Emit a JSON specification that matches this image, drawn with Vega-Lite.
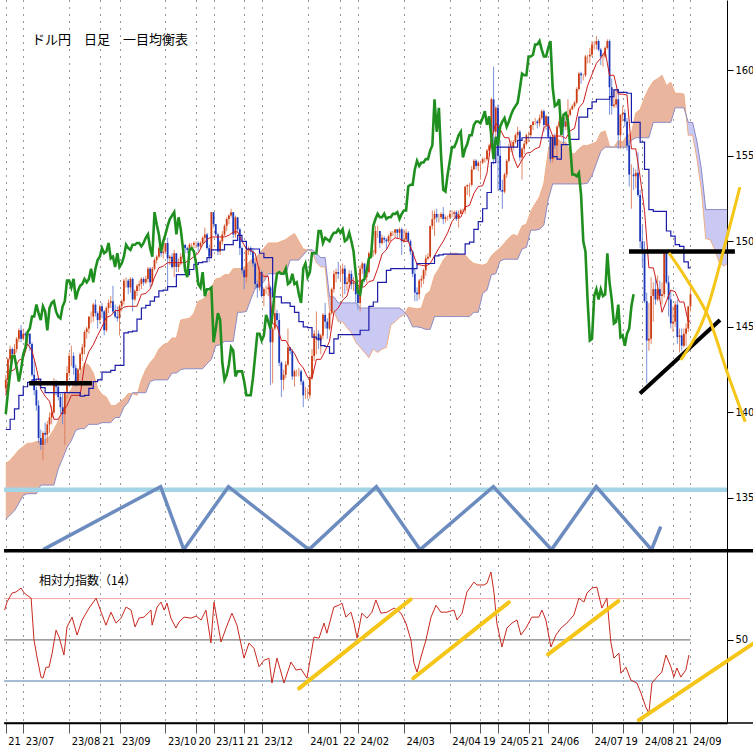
{
"$schema":"https://vega.github.io/schema/vega-lite/v6.json",
"padding":0,"background":"white","spacing":0,"bounds":"flush",
"config":{"view":{"stroke":null},"axis":{"labelFont":"Liberation Sans Narrow, DejaVu Sans Condensed, Liberation Sans","labelColor":"#000","tickColor":"#000","domainColor":"#000","labelFontSize":11}},
"resolve":{"scale":{"x":"independent","y":"independent"}},
"datasets":{
"candles":[
{"t":-8,"o":141.4,"h":142.2,"l":141.2,"c":141.9},{"t":-7,"o":141.9,"h":143.2,"l":141.7,"c":143.1},{"t":-6,"o":143.1,"h":143.9,"l":142.9,"c":143.7},{"t":-5,"o":143.7,"h":143.8,"l":142.9,"c":143.4},{"t":-4,"o":143.4,"h":144.0,"l":143.2,"c":143.7},{"t":-3,"o":143.7,"h":144.4,"l":143.5,"c":144.3},{"t":-2,"o":144.3,"h":144.9,"l":144.1,"c":144.8},{"t":-1,"o":144.8,"h":145.1,"l":144.1,"c":144.3},
{"t":0,"o":144.3,"h":144.9,"l":144.2,"c":144.6},{"t":1,"o":144.6,"h":144.7,"l":144.2,"c":144.5},{"t":2,"o":144.5,"h":144.7,"l":144.0,"c":144.6},{"t":3,"o":144.6,"h":144.6,"l":143.6,"c":144.0},{"t":4,"o":144.0,"h":144.1,"l":142.1,"c":142.2},{"t":5,"o":142.2,"h":143.0,"l":141.0,"c":141.3},{"t":6,"o":141.3,"h":141.5,"l":140.1,"c":140.4},{"t":7,"o":140.4,"h":140.7,"l":138.2,"c":138.5},{"t":8,"o":138.5,"h":139.0,"l":137.8,"c":138.1},{"t":9,"o":138.1,"h":138.9,"l":137.2,"c":138.8},
{"t":10,"o":138.8,"h":139.4,"l":138.1,"c":138.7},{"t":11,"o":138.7,"h":139.5,"l":138.2,"c":139.3},{"t":12,"o":139.3,"h":140.0,"l":138.8,"c":139.7},{"t":13,"o":139.7,"h":140.4,"l":139.3,"c":140.0},{"t":14,"o":140.0,"h":142.0,"l":139.9,"c":141.8},{"t":15,"o":141.8,"h":141.9,"l":141.0,"c":141.5},{"t":16,"o":141.5,"h":141.7,"l":140.7,"c":140.9},{"t":17,"o":140.9,"h":141.1,"l":139.9,"c":140.3},{"t":18,"o":140.3,"h":141.1,"l":139.3,"c":139.9},{"t":19,"o":139.9,"h":141.2,"l":138.1,"c":141.2},
{"t":20,"o":141.2,"h":142.7,"l":140.8,"c":142.3},{"t":21,"o":142.3,"h":143.5,"l":142.1,"c":143.3},{"t":22,"o":143.3,"h":143.9,"l":142.7,"c":143.3},{"t":23,"o":143.3,"h":143.5,"l":142.2,"c":142.6},{"t":24,"o":142.6,"h":142.8,"l":141.5,"c":141.8},{"t":25,"o":141.8,"h":142.6,"l":141.6,"c":142.5},{"t":26,"o":142.5,"h":143.5,"l":142.4,"c":143.4},{"t":27,"o":143.4,"h":144.0,"l":143.0,"c":143.8},{"t":28,"o":143.8,"h":144.8,"l":143.4,"c":144.7},{"t":29,"o":144.7,"h":145.0,"l":144.3,"c":144.9},
{"t":30,"o":144.9,"h":145.6,"l":144.6,"c":145.6},{"t":31,"o":145.6,"h":145.9,"l":145.2,"c":145.6},{"t":32,"o":145.6,"h":146.4,"l":145.3,"c":146.3},{"t":33,"o":146.3,"h":146.6,"l":145.6,"c":145.8},{"t":34,"o":145.8,"h":145.9,"l":144.9,"c":145.4},{"t":35,"o":145.4,"h":146.3,"l":145.2,"c":146.2},{"t":36,"o":146.2,"h":146.4,"l":145.5,"c":145.9},{"t":37,"o":145.9,"h":146.0,"l":144.5,"c":144.8},{"t":38,"o":144.8,"h":146.2,"l":144.7,"c":146.1},{"t":39,"o":146.1,"h":146.6,"l":145.8,"c":146.4},
{"t":40,"o":146.4,"h":146.8,"l":146.1,"c":146.5},{"t":41,"o":146.5,"h":147.4,"l":145.8,"c":145.9},{"t":42,"o":145.9,"h":146.3,"l":145.5,"c":145.6},{"t":43,"o":145.6,"h":146.2,"l":145.3,"c":145.5},{"t":44,"o":145.5,"h":146.3,"l":144.5,"c":146.2},{"t":45,"o":146.2,"h":146.6,"l":145.9,"c":146.5},{"t":46,"o":146.5,"h":147.8,"l":146.3,"c":147.7},{"t":47,"o":147.7,"h":147.9,"l":147.3,"c":147.7},{"t":48,"o":147.7,"h":147.8,"l":146.9,"c":147.3},{"t":49,"o":147.3,"h":147.9,"l":147.0,"c":147.8},
{"t":50,"o":147.8,"h":147.9,"l":145.9,"c":146.6},{"t":51,"o":146.6,"h":147.2,"l":146.5,"c":147.1},{"t":52,"o":147.1,"h":147.5,"l":146.8,"c":147.4},{"t":53,"o":147.4,"h":147.7,"l":147.1,"c":147.5},{"t":54,"o":147.5,"h":147.9,"l":147.2,"c":147.8},{"t":55,"o":147.8,"h":147.9,"l":147.4,"c":147.6},{"t":56,"o":147.6,"h":148.0,"l":147.5,"c":147.8},{"t":57,"o":147.8,"h":148.5,"l":147.6,"c":148.4},{"t":58,"o":148.4,"h":148.5,"l":147.3,"c":147.6},{"t":59,"o":147.6,"h":148.5,"l":147.4,"c":148.4},
{"t":60,"o":148.4,"h":149.0,"l":148.3,"c":148.9},{"t":61,"o":148.9,"h":149.2,"l":148.7,"c":149.1},{"t":62,"o":149.1,"h":149.7,"l":149.0,"c":149.6},{"t":63,"o":149.6,"h":149.7,"l":149.1,"c":149.3},{"t":64,"o":149.3,"h":149.8,"l":149.0,"c":149.4},{"t":65,"o":149.4,"h":149.9,"l":149.3,"c":149.9},{"t":66,"o":149.9,"h":150.2,"l":147.3,"c":149.0},{"t":67,"o":149.0,"h":149.2,"l":148.6,"c":149.1},{"t":68,"o":149.1,"h":149.3,"l":148.4,"c":148.5},{"t":69,"o":148.5,"h":149.5,"l":147.9,"c":149.3},
{"t":70,"o":149.3,"h":149.3,"l":148.2,"c":148.5},{"t":71,"o":148.5,"h":149.0,"l":148.2,"c":148.7},{"t":72,"o":148.7,"h":149.3,"l":148.6,"c":149.1},{"t":73,"o":149.1,"h":149.8,"l":149.0,"c":149.8},{"t":74,"o":149.8,"h":149.8,"l":149.3,"c":149.6},{"t":75,"o":149.6,"h":149.7,"l":149.3,"c":149.5},{"t":76,"o":149.5,"h":149.9,"l":149.4,"c":149.8},{"t":77,"o":149.8,"h":149.9,"l":149.5,"c":149.8},{"t":78,"o":149.8,"h":150.0,"l":149.6,"c":149.9},{"t":79,"o":149.9,"h":150.0,"l":149.6,"c":149.9},
{"t":80,"o":149.9,"h":150.0,"l":149.4,"c":149.7},{"t":81,"o":149.7,"h":150.0,"l":149.6,"c":149.9},{"t":82,"o":149.9,"h":150.3,"l":149.8,"c":150.2},{"t":83,"o":150.2,"h":150.8,"l":150.0,"c":150.4},{"t":84,"o":150.4,"h":150.5,"l":149.5,"c":149.6},{"t":85,"o":149.6,"h":149.8,"l":148.8,"c":149.1},{"t":86,"o":149.1,"h":151.7,"l":149.0,"c":151.7},{"t":87,"o":151.7,"h":151.7,"l":150.8,"c":151.0},{"t":88,"o":151.0,"h":151.0,"l":150.3,"c":150.4},{"t":89,"o":150.4,"h":150.5,"l":149.2,"c":149.4},
{"t":90,"o":149.4,"h":150.1,"l":149.2,"c":150.0},{"t":91,"o":150.0,"h":150.6,"l":149.8,"c":150.4},{"t":92,"o":150.4,"h":151.0,"l":150.3,"c":150.9},{"t":93,"o":150.9,"h":151.4,"l":150.6,"c":151.3},{"t":94,"o":151.3,"h":151.6,"l":151.0,"c":151.5},{"t":95,"o":151.5,"h":151.9,"l":151.4,"c":151.7},{"t":96,"o":151.7,"h":151.7,"l":150.2,"c":150.4},{"t":97,"o":150.4,"h":151.5,"l":150.2,"c":151.4},{"t":98,"o":151.4,"h":151.4,"l":150.5,"c":150.7},{"t":99,"o":150.7,"h":150.8,"l":149.2,"c":149.6},
{"t":100,"o":149.6,"h":149.7,"l":148.1,"c":148.3},{"t":101,"o":148.3,"h":148.4,"l":147.2,"c":147.9},{"t":102,"o":147.9,"h":149.7,"l":147.6,"c":149.5},{"t":103,"o":149.5,"h":149.7,"l":149.2,"c":149.6},{"t":104,"o":149.6,"h":149.7,"l":149.2,"c":149.4},{"t":105,"o":149.4,"h":149.6,"l":148.5,"c":148.7},{"t":106,"o":148.7,"h":148.8,"l":147.2,"c":147.5},{"t":107,"o":147.5,"h":147.7,"l":146.7,"c":147.3},{"t":108,"o":147.3,"h":148.5,"l":147.1,"c":148.2},{"t":109,"o":148.2,"h":148.3,"l":146.7,"c":146.8},
{"t":110,"o":146.8,"h":147.3,"l":146.2,"c":147.2},{"t":111,"o":147.2,"h":147.4,"l":146.9,"c":147.2},{"t":112,"o":147.2,"h":147.5,"l":146.8,"c":147.3},{"t":113,"o":147.3,"h":147.4,"l":141.6,"c":144.1},{"t":114,"o":144.1,"h":145.0,"l":141.7,"c":144.9},{"t":115,"o":144.9,"h":146.6,"l":144.8,"c":145.8},{"t":116,"o":145.8,"h":146.0,"l":145.0,"c":145.4},{"t":117,"o":145.4,"h":145.8,"l":142.7,"c":142.9},{"t":118,"o":142.9,"h":143.0,"l":140.9,"c":141.9},{"t":119,"o":141.9,"h":142.5,"l":141.3,"c":142.2},
{"t":120,"o":142.2,"h":143.0,"l":142.0,"c":142.8},{"t":121,"o":142.8,"h":144.9,"l":142.7,"c":143.8},{"t":122,"o":143.8,"h":143.8,"l":143.4,"c":143.6},{"t":123,"o":143.6,"h":143.7,"l":141.9,"c":142.1},{"t":124,"o":142.1,"h":142.5,"l":141.5,"c":142.4},{"t":125,"o":142.4,"h":142.5,"l":142.1,"c":142.4},{"t":126,"o":142.4,"h":142.6,"l":142.1,"c":142.4},{"t":127,"o":142.4,"h":142.5,"l":141.6,"c":141.8},{"t":128,"o":141.8,"h":141.9,"l":140.3,"c":141.0},{"t":129,"o":141.0,"h":141.5,"l":140.8,"c":141.0},
{"t":130,"o":141.0,"h":141.4,"l":140.8,"c":141.0},{"t":131,"o":141.0,"h":142.2,"l":140.8,"c":142.0},{"t":132,"o":142.0,"h":143.7,"l":141.9,"c":143.3},{"t":133,"o":143.3,"h":144.8,"l":143.0,"c":144.6},{"t":134,"o":144.6,"h":145.9,"l":143.4,"c":144.6},{"t":135,"o":144.6,"h":144.8,"l":143.7,"c":144.2},{"t":136,"o":144.2,"h":144.6,"l":143.4,"c":144.5},{"t":137,"o":144.5,"h":145.8,"l":144.3,"c":145.7},{"t":138,"o":145.7,"h":146.4,"l":144.9,"c":145.3},{"t":139,"o":145.3,"h":145.5,"l":144.3,"c":144.9},
{"t":140,"o":144.9,"h":145.9,"l":144.8,"c":145.8},{"t":141,"o":145.8,"h":147.3,"l":145.7,"c":147.2},{"t":142,"o":147.2,"h":148.3,"l":147.0,"c":148.1},{"t":143,"o":148.1,"h":148.4,"l":147.6,"c":148.2},{"t":144,"o":148.2,"h":148.8,"l":147.8,"c":148.1},{"t":145,"o":148.1,"h":148.6,"l":147.7,"c":148.1},{"t":146,"o":148.1,"h":148.7,"l":146.7,"c":148.4},{"t":147,"o":148.4,"h":148.6,"l":146.9,"c":147.5},{"t":148,"o":147.5,"h":147.9,"l":147.1,"c":147.6},{"t":149,"o":147.6,"h":148.3,"l":147.3,"c":148.1},
{"t":150,"o":148.1,"h":148.3,"l":147.2,"c":147.5},{"t":151,"o":147.5,"h":147.9,"l":147.1,"c":147.6},{"t":152,"o":147.6,"h":147.7,"l":146.4,"c":146.9},{"t":153,"o":146.9,"h":147.3,"l":146.0,"c":146.4},{"t":154,"o":146.4,"h":148.6,"l":145.9,"c":148.4},{"t":155,"o":148.4,"h":148.8,"l":148.1,"c":148.7},{"t":156,"o":148.7,"h":148.7,"l":147.6,"c":147.9},{"t":157,"o":147.9,"h":148.3,"l":147.6,"c":148.2},{"t":158,"o":148.2,"h":149.4,"l":148.1,"c":149.3},{"t":159,"o":149.3,"h":149.5,"l":149.0,"c":149.3},
{"t":160,"o":149.3,"h":149.5,"l":149.1,"c":149.3},{"t":161,"o":149.3,"h":150.9,"l":149.2,"c":150.6},{"t":162,"o":150.6,"h":150.9,"l":150.2,"c":150.6},{"t":163,"o":150.6,"h":150.6,"l":149.6,"c":149.9},{"t":164,"o":149.9,"h":150.4,"l":149.8,"c":150.2},{"t":165,"o":150.2,"h":150.3,"l":149.9,"c":150.1},{"t":166,"o":150.1,"h":150.2,"l":149.5,"c":150.0},{"t":167,"o":150.0,"h":150.4,"l":149.9,"c":150.3},{"t":168,"o":150.3,"h":150.6,"l":150.0,"c":150.5},{"t":169,"o":150.5,"h":150.6,"l":150.3,"c":150.5},
{"t":170,"o":150.5,"h":150.7,"l":150.2,"c":150.7},{"t":171,"o":150.7,"h":150.7,"l":150.2,"c":150.5},{"t":172,"o":150.5,"h":150.8,"l":150.2,"c":150.7},{"t":173,"o":150.7,"h":150.8,"l":149.2,"c":150.0},{"t":174,"o":150.0,"h":150.7,"l":149.9,"c":150.1},{"t":175,"o":150.1,"h":150.7,"l":150.0,"c":150.5},{"t":176,"o":150.5,"h":150.6,"l":149.9,"c":150.0},{"t":177,"o":150.0,"h":150.1,"l":149.2,"c":149.4},{"t":178,"o":149.4,"h":149.5,"l":147.9,"c":148.1},{"t":179,"o":148.1,"h":148.4,"l":146.5,"c":147.0},
{"t":180,"o":147.0,"h":147.3,"l":146.5,"c":146.9},{"t":181,"o":146.9,"h":147.8,"l":146.6,"c":147.7},{"t":182,"o":147.7,"h":148.0,"l":147.3,"c":147.8},{"t":183,"o":147.8,"h":148.4,"l":147.5,"c":148.3},{"t":184,"o":148.3,"h":149.2,"l":148.0,"c":149.0},{"t":185,"o":149.0,"h":149.3,"l":148.9,"c":149.1},{"t":186,"o":149.1,"h":150.9,"l":149.0,"c":150.9},{"t":187,"o":150.9,"h":151.8,"l":150.7,"c":151.3},{"t":188,"o":151.3,"h":151.8,"l":150.3,"c":151.6},{"t":189,"o":151.6,"h":151.9,"l":151.1,"c":151.4},
{"t":190,"o":151.4,"h":151.6,"l":151.1,"c":151.4},{"t":191,"o":151.4,"h":151.7,"l":151.3,"c":151.6},{"t":192,"o":151.6,"h":152.0,"l":151.0,"c":151.3},{"t":193,"o":151.3,"h":151.5,"l":151.1,"c":151.4},{"t":194,"o":151.4,"h":151.5,"l":151.2,"c":151.4},{"t":195,"o":151.4,"h":151.8,"l":151.3,"c":151.6},{"t":196,"o":151.6,"h":151.8,"l":151.4,"c":151.6},{"t":197,"o":151.6,"h":151.8,"l":151.4,"c":151.7},{"t":198,"o":151.7,"h":151.8,"l":151.2,"c":151.3},{"t":199,"o":151.3,"h":151.8,"l":150.8,"c":151.6},
{"t":200,"o":151.6,"h":151.9,"l":151.6,"c":151.8},{"t":201,"o":151.8,"h":151.9,"l":151.6,"c":151.8},{"t":202,"o":151.8,"h":153.2,"l":151.6,"c":153.2},{"t":203,"o":153.2,"h":153.3,"l":152.7,"c":153.3},{"t":204,"o":153.3,"h":153.4,"l":152.6,"c":153.3},{"t":205,"o":153.3,"h":154.4,"l":153.2,"c":154.2},{"t":206,"o":154.2,"h":154.8,"l":154.2,"c":154.7},{"t":207,"o":154.7,"h":154.8,"l":154.2,"c":154.4},{"t":208,"o":154.4,"h":154.7,"l":154.1,"c":154.6},{"t":209,"o":154.6,"h":154.7,"l":153.6,"c":154.6},
{"t":210,"o":154.6,"h":154.9,"l":154.5,"c":154.8},{"t":211,"o":154.8,"h":154.9,"l":154.6,"c":154.8},{"t":212,"o":154.8,"h":155.4,"l":154.7,"c":155.3},{"t":213,"o":155.3,"h":155.7,"l":155.0,"c":155.6},{"t":214,"o":155.6,"h":158.4,"l":155.4,"c":158.3},{"t":215,"o":158.3,"h":160.2,"l":154.5,"c":156.4},{"t":216,"o":156.4,"h":157.9,"l":156.0,"c":157.8},{"t":217,"o":157.8,"h":158.0,"l":153.0,"c":155.0},{"t":218,"o":155.0,"h":155.9,"l":152.9,"c":153.0},{"t":219,"o":153.0,"h":153.6,"l":151.9,"c":152.9},
{"t":220,"o":152.9,"h":154.0,"l":152.8,"c":153.9},{"t":221,"o":153.9,"h":154.8,"l":153.7,"c":154.7},{"t":222,"o":154.7,"h":155.7,"l":154.6,"c":155.5},{"t":223,"o":155.5,"h":155.9,"l":155.2,"c":155.5},{"t":224,"o":155.5,"h":155.9,"l":155.3,"c":155.8},{"t":225,"o":155.8,"h":156.3,"l":155.7,"c":156.2},{"t":226,"o":156.2,"h":156.7,"l":156.0,"c":156.4},{"t":227,"o":156.4,"h":156.5,"l":154.7,"c":154.9},{"t":228,"o":154.9,"h":155.5,"l":153.6,"c":155.4},{"t":229,"o":155.4,"h":155.9,"l":155.1,"c":155.7},
{"t":230,"o":155.7,"h":156.3,"l":155.6,"c":156.2},{"t":231,"o":156.2,"h":156.4,"l":155.8,"c":156.2},{"t":232,"o":156.2,"h":156.8,"l":156.1,"c":156.8},{"t":233,"o":156.8,"h":157.0,"l":156.5,"c":157.0},{"t":234,"o":157.0,"h":157.2,"l":156.8,"c":157.0},{"t":235,"o":157.0,"h":157.1,"l":156.6,"c":156.9},{"t":236,"o":156.9,"h":157.4,"l":156.7,"c":157.2},{"t":237,"o":157.2,"h":157.7,"l":157.1,"c":157.6},{"t":238,"o":157.6,"h":157.7,"l":156.4,"c":156.8},{"t":239,"o":156.8,"h":157.4,"l":156.5,"c":157.3},
{"t":240,"o":157.3,"h":157.3,"l":156.0,"c":156.1},{"t":241,"o":156.1,"h":156.2,"l":154.6,"c":154.8},{"t":242,"o":154.8,"h":156.2,"l":154.6,"c":156.1},{"t":243,"o":156.1,"h":156.3,"l":155.4,"c":155.6},{"t":244,"o":155.6,"h":156.8,"l":154.9,"c":156.7},{"t":245,"o":156.7,"h":157.2,"l":156.6,"c":157.0},{"t":246,"o":157.0,"h":157.3,"l":156.8,"c":157.2},{"t":247,"o":157.2,"h":157.4,"l":155.7,"c":156.7},{"t":248,"o":156.7,"h":157.2,"l":156.5,"c":157.0},{"t":249,"o":157.0,"h":158.3,"l":156.3,"c":157.4},
{"t":250,"o":157.4,"h":157.8,"l":157.3,"c":157.7},{"t":251,"o":157.7,"h":158.0,"l":157.7,"c":157.9},{"t":252,"o":157.9,"h":158.2,"l":157.8,"c":158.1},{"t":253,"o":158.1,"h":159.0,"l":158.0,"c":158.9},{"t":254,"o":158.9,"h":159.9,"l":158.8,"c":159.8},{"t":255,"o":159.8,"h":159.9,"l":159.2,"c":159.7},{"t":256,"o":159.7,"h":159.8,"l":159.4,"c":159.7},{"t":257,"o":159.7,"h":160.9,"l":159.6,"c":160.8},{"t":258,"o":160.8,"h":160.9,"l":160.4,"c":160.8},{"t":259,"o":160.8,"h":161.3,"l":160.4,"c":160.9},
{"t":260,"o":160.9,"h":161.7,"l":160.8,"c":161.5},{"t":261,"o":161.5,"h":161.7,"l":161.2,"c":161.5},{"t":262,"o":161.5,"h":162.0,"l":161.2,"c":161.7},{"t":263,"o":161.7,"h":161.8,"l":161.1,"c":161.2},{"t":264,"o":161.2,"h":161.3,"l":160.3,"c":160.8},{"t":265,"o":160.8,"h":161.0,"l":160.2,"c":160.8},{"t":266,"o":160.8,"h":161.4,"l":160.7,"c":161.3},{"t":267,"o":161.3,"h":161.8,"l":161.2,"c":161.7},{"t":268,"o":161.7,"h":161.8,"l":157.4,"c":159.0},{"t":269,"o":159.0,"h":159.5,"l":157.4,"c":157.9},
{"t":270,"o":157.9,"h":158.9,"l":157.8,"c":158.0},{"t":271,"o":158.0,"h":158.9,"l":157.8,"c":158.3},{"t":272,"o":158.3,"h":158.9,"l":155.4,"c":156.2},{"t":273,"o":156.2,"h":157.4,"l":155.4,"c":157.4},{"t":274,"o":157.4,"h":157.9,"l":157.0,"c":157.5},{"t":275,"o":157.5,"h":157.7,"l":156.7,"c":157.0},{"t":276,"o":157.0,"h":157.2,"l":155.3,"c":155.6},{"t":277,"o":155.6,"h":155.9,"l":153.2,"c":153.9},{"t":278,"o":153.9,"h":154.5,"l":151.9,"c":153.9},{"t":279,"o":153.9,"h":154.3,"l":153.0,"c":153.8},
{"t":280,"o":153.8,"h":154.2,"l":153.1,"c":154.0},{"t":281,"o":154.0,"h":155.2,"l":152.6,"c":152.7},{"t":282,"o":152.7,"h":153.0,"l":149.6,"c":150.0},{"t":283,"o":150.0,"h":150.9,"l":148.5,"c":149.4},{"t":284,"o":149.4,"h":150.0,"l":146.4,"c":146.5},{"t":285,"o":146.5,"h":147.0,"l":141.7,"c":144.2},{"t":286,"o":144.2,"h":146.4,"l":143.6,"c":144.3},{"t":287,"o":144.3,"h":147.9,"l":144.0,"c":146.8},{"t":288,"o":146.8,"h":147.6,"l":145.3,"c":147.2},{"t":289,"o":147.2,"h":147.8,"l":146.3,"c":146.6},
{"t":290,"o":146.6,"h":148.0,"l":146.5,"c":147.2},{"t":291,"o":147.2,"h":147.7,"l":146.6,"c":146.8},{"t":292,"o":146.8,"h":147.6,"l":146.3,"c":146.9},{"t":293,"o":146.9,"h":149.4,"l":146.7,"c":149.3},{"t":294,"o":149.3,"h":149.4,"l":147.5,"c":147.6},{"t":295,"o":147.6,"h":148.0,"l":145.6,"c":146.6},{"t":296,"o":146.6,"h":147.1,"l":144.9,"c":145.2},{"t":297,"o":145.2,"h":146.2,"l":144.7,"c":145.3},{"t":298,"o":145.3,"h":146.5,"l":145.0,"c":146.3},{"t":299,"o":146.3,"h":146.6,"l":144.0,"c":144.4},
{"t":300,"o":144.4,"h":144.9,"l":143.5,"c":144.5},{"t":301,"o":144.5,"h":144.9,"l":143.6,"c":143.9},{"t":302,"o":143.9,"h":144.9,"l":143.8,"c":144.6},{"t":303,"o":144.6,"h":145.2,"l":143.9,"c":144.9},{"t":304,"o":144.9,"h":146.2,"l":144.7,"c":146.2},{"t":305,"o":146.2,"h":147.2,"l":145.9,"c":146.9}
],
"tenkan":[{"t":-8,"v":141.0},{"t":-6,"v":142.4},{"t":-4,"v":142.5},{"t":-2,"v":143.05},{"t":0,"v":143.15},{"t":2,"v":144.0},{"t":4,"v":143.6},{"t":6,"v":142.6},{"t":8,"v":141.35},{"t":10,"v":140.95},{"t":12,"v":140.65},{"t":14,"v":139.6},{"t":16,"v":139.6},{"t":18,"v":140.05},{"t":20,"v":140.4},{"t":22,"v":141.0},{"t":24,"v":141.0},{"t":26,"v":141.0},{"t":28,"v":142.8},{"t":30,"v":143.55},{"t":32,"v":143.95},{"t":34,"v":144.5},{"t":36,"v":145.0},{"t":38,"v":145.55},{"t":40,"v":145.65},{"t":42,"v":145.95},{"t":44,"v":145.95},{"t":46,"v":146.15},{"t":48,"v":146.2},{"t":50,"v":146.2},{"t":52,"v":146.2},{"t":54,"v":146.9},{"t":56,"v":146.95},{"t":58,"v":147.2},{"t":60,"v":147.9},{"t":62,"v":148.45},{"t":64,"v":148.55},{"t":66,"v":148.75},{"t":68,"v":148.75},{"t":70,"v":148.75},{"t":72,"v":148.75},{"t":74,"v":148.75},{"t":76,"v":148.9},{"t":78,"v":149.1},{"t":80,"v":149.3},{"t":82,"v":149.8},{"t":84,"v":150.1},{"t":86,"v":150.25},{"t":88,"v":150.25},{"t":90,"v":150.25},{"t":92,"v":150.25},{"t":94,"v":150.35},{"t":96,"v":150.55},{"t":98,"v":150.55},{"t":100,"v":150.0},{"t":102,"v":149.55},{"t":104,"v":149.45},{"t":106,"v":149.3},{"t":108,"v":148.2},{"t":110,"v":147.95},{"t":112,"v":147.95},{"t":114,"v":145.2},{"t":116,"v":145.05},{"t":118,"v":144.2},{"t":120,"v":144.2},{"t":122,"v":143.75},{"t":124,"v":143.45},{"t":126,"v":142.9},{"t":128,"v":142.6},{"t":130,"v":142.05},{"t":132,"v":142.0},{"t":134,"v":143.1},{"t":136,"v":143.1},{"t":138,"v":143.6},{"t":140,"v":144.15},{"t":142,"v":145.85},{"t":144,"v":146.1},{"t":146,"v":146.55},{"t":148,"v":146.8},{"t":150,"v":147.75},{"t":152,"v":147.6},{"t":154,"v":147.3},{"t":156,"v":147.35},{"t":158,"v":147.65},{"t":160,"v":147.7},{"t":162,"v":148.4},{"t":164,"v":149.25},{"t":166,"v":149.5},{"t":168,"v":150.0},{"t":170,"v":150.2},{"t":172,"v":150.15},{"t":174,"v":150.0},{"t":176,"v":150.0},{"t":178,"v":149.35},{"t":180,"v":148.65},{"t":182,"v":148.6},{"t":184,"v":148.55},{"t":186,"v":148.7},{"t":188,"v":149.15},{"t":190,"v":149.6},{"t":192,"v":150.0},{"t":194,"v":150.5},{"t":196,"v":151.15},{"t":198,"v":151.5},{"t":200,"v":151.4},{"t":202,"v":152.0},{"t":204,"v":152.1},{"t":206,"v":152.8},{"t":208,"v":153.2},{"t":210,"v":153.25},{"t":212,"v":154.0},{"t":214,"v":156.0},{"t":216,"v":156.9},{"t":218,"v":156.55},{"t":220,"v":156.05},{"t":222,"v":156.05},{"t":224,"v":154.95},{"t":226,"v":154.3},{"t":228,"v":154.75},{"t":230,"v":155.15},{"t":232,"v":155.2},{"t":234,"v":155.4},{"t":236,"v":155.5},{"t":238,"v":156.65},{"t":240,"v":156.85},{"t":242,"v":156.15},{"t":244,"v":156.15},{"t":246,"v":156.15},{"t":248,"v":156.0},{"t":250,"v":156.45},{"t":252,"v":156.6},{"t":254,"v":157.8},{"t":256,"v":158.1},{"t":258,"v":159.1},{"t":260,"v":159.75},{"t":262,"v":160.4},{"t":264,"v":160.7},{"t":266,"v":161.1},{"t":268,"v":159.7},{"t":270,"v":159.7},{"t":272,"v":158.6},{"t":274,"v":158.6},{"t":276,"v":158.55},{"t":278,"v":155.4},{"t":280,"v":155.4},{"t":282,"v":153.75},{"t":284,"v":151.8},{"t":286,"v":148.45},{"t":288,"v":148.45},{"t":290,"v":147.35},{"t":292,"v":145.85},{"t":294,"v":146.5},{"t":296,"v":147.15},{"t":298,"v":147.05},{"t":300,"v":146.45},{"t":302,"v":146.45},{"t":304,"v":145.3},{"t":305,"v":145.35}],
"kijun":[{"t":-8,"v":139.0},{"t":-6,"v":139.6},{"t":-4,"v":140.2},{"t":-2,"v":141.0},{"t":0,"v":141.5},{"t":2,"v":141.75},{"t":4,"v":141.9},{"t":6,"v":141.95},{"t":8,"v":141.45},{"t":10,"v":141.15},{"t":26,"v":140.95},{"t":28,"v":141.0},{"t":30,"v":141.4},{"t":32,"v":141.8},{"t":34,"v":141.9},{"t":36,"v":142.35},{"t":40,"v":142.45},{"t":42,"v":142.75},{"t":46,"v":144.65},{"t":48,"v":144.7},{"t":50,"v":144.75},{"t":52,"v":145.45},{"t":54,"v":146.1},{"t":56,"v":146.25},{"t":58,"v":146.5},{"t":60,"v":146.75},{"t":62,"v":147.1},{"t":64,"v":147.15},{"t":66,"v":147.35},{"t":70,"v":148.05},{"t":76,"v":148.35},{"t":78,"v":148.65},{"t":80,"v":148.75},{"t":82,"v":148.8},{"t":84,"v":149.05},{"t":86,"v":149.5},{"t":92,"v":149.8},{"t":96,"v":150.05},{"t":98,"v":150.35},{"t":100,"v":150.0},{"t":102,"v":149.55},{"t":108,"v":149.3},{"t":110,"v":149.05},{"t":114,"v":146.75},{"t":118,"v":146.4},{"t":122,"v":146.2},{"t":124,"v":145.85},{"t":126,"v":145.3},{"t":128,"v":145.0},{"t":130,"v":144.95},{"t":132,"v":144.4},{"t":134,"v":144.3},{"t":136,"v":143.9},{"t":138,"v":143.85},{"t":140,"v":143.45},{"t":142,"v":144.3},{"t":144,"v":144.55},{"t":154,"v":144.8},{"t":158,"v":146.2},{"t":160,"v":146.45},{"t":162,"v":147.6},{"t":166,"v":148.3},{"t":168,"v":148.4},{"t":180,"v":148.7},{"t":188,"v":149.15},{"t":190,"v":149.2},{"t":192,"v":149.25},{"t":202,"v":149.85},{"t":204,"v":149.95},{"t":206,"v":150.7},{"t":208,"v":151.15},{"t":210,"v":151.9},{"t":212,"v":152.85},{"t":214,"v":154.6},{"t":216,"v":155.5},{"t":226,"v":155.9},{"t":228,"v":156.05},{"t":242,"v":154.95},{"t":244,"v":154.8},{"t":246,"v":155.65},{"t":250,"v":155.95},{"t":254,"v":157.25},{"t":258,"v":157.75},{"t":260,"v":158.15},{"t":262,"v":158.3},{"t":268,"v":158.45},{"t":270,"v":158.85},{"t":272,"v":158.7},{"t":276,"v":158.65},{"t":278,"v":156.95},{"t":282,"v":155.8},{"t":284,"v":154.2},{"t":286,"v":151.85},{"t":288,"v":151.75},{"t":294,"v":150.6},{"t":296,"v":150.3},{"t":298,"v":149.8},{"t":300,"v":149.7},{"t":302,"v":148.8},{"t":304,"v":148.45},{"t":305,"v":148.45}],
"chikou":[{"t":-8,"v":139.9},{"t":-7,"v":141.2},{"t":-6,"v":142.3},{"t":-5,"v":143.3},{"t":-4,"v":143.3},{"t":-3,"v":142.6},{"t":-2,"v":141.8},{"t":-1,"v":142.5},{"t":0,"v":143.4},{"t":1,"v":143.8},{"t":2,"v":144.7},{"t":3,"v":144.9},{"t":4,"v":145.6},{"t":5,"v":145.6},{"t":6,"v":146.3},{"t":7,"v":145.8},{"t":8,"v":145.4},{"t":9,"v":146.2},{"t":10,"v":145.9},{"t":11,"v":144.8},{"t":12,"v":146.1},{"t":13,"v":146.4},{"t":14,"v":146.5},{"t":15,"v":145.9},{"t":16,"v":145.6},{"t":17,"v":145.5},{"t":18,"v":146.2},{"t":19,"v":146.5},{"t":20,"v":147.7},{"t":21,"v":147.7},{"t":22,"v":147.3},{"t":23,"v":147.8},{"t":24,"v":146.6},{"t":25,"v":147.1},{"t":26,"v":147.4},{"t":27,"v":147.5},{"t":28,"v":147.8},{"t":29,"v":147.6},{"t":30,"v":147.8},{"t":31,"v":148.4},{"t":32,"v":147.6},{"t":33,"v":148.4},{"t":34,"v":148.9},{"t":35,"v":149.1},{"t":36,"v":149.6},{"t":37,"v":149.3},{"t":38,"v":149.4},{"t":39,"v":149.9},{"t":40,"v":149.0},{"t":41,"v":149.1},{"t":42,"v":148.5},{"t":43,"v":149.3},{"t":44,"v":148.5},{"t":45,"v":148.7},{"t":46,"v":149.1},{"t":47,"v":149.8},{"t":48,"v":149.6},{"t":49,"v":149.5},{"t":50,"v":149.8},{"t":51,"v":149.8},{"t":52,"v":149.9},{"t":53,"v":149.9},{"t":54,"v":149.7},{"t":55,"v":149.9},{"t":56,"v":150.2},{"t":57,"v":150.4},{"t":58,"v":149.6},{"t":59,"v":149.1},{"t":60,"v":151.7},{"t":61,"v":151.0},{"t":62,"v":150.4},{"t":63,"v":149.4},{"t":64,"v":150.0},{"t":65,"v":150.4},{"t":66,"v":150.9},{"t":67,"v":151.3},{"t":68,"v":151.5},{"t":69,"v":151.7},{"t":70,"v":150.4},{"t":71,"v":151.4},{"t":72,"v":150.7},{"t":73,"v":149.6},{"t":74,"v":148.3},{"t":75,"v":147.9},{"t":76,"v":149.5},{"t":77,"v":149.6},{"t":78,"v":149.4},{"t":79,"v":148.7},{"t":80,"v":147.5},{"t":81,"v":147.3},{"t":82,"v":148.2},{"t":83,"v":146.8},{"t":84,"v":147.2},{"t":85,"v":147.2},{"t":86,"v":147.3},{"t":87,"v":144.1},{"t":88,"v":144.9},{"t":89,"v":145.8},{"t":90,"v":145.4},{"t":91,"v":142.9},{"t":92,"v":141.9},{"t":93,"v":142.2},{"t":94,"v":142.8},{"t":95,"v":143.8},{"t":96,"v":143.6},{"t":97,"v":142.1},{"t":98,"v":142.4},{"t":99,"v":142.4},{"t":100,"v":142.4},{"t":101,"v":141.8},{"t":102,"v":141.0},{"t":103,"v":141.0},{"t":104,"v":141.0},{"t":105,"v":142.0},{"t":106,"v":143.3},{"t":107,"v":144.6},{"t":108,"v":144.6},{"t":109,"v":144.2},{"t":110,"v":144.5},{"t":111,"v":145.7},{"t":112,"v":145.3},{"t":113,"v":144.9},{"t":114,"v":145.8},{"t":115,"v":147.2},{"t":116,"v":148.1},{"t":117,"v":148.2},{"t":118,"v":148.1},{"t":119,"v":148.1},{"t":120,"v":148.4},{"t":121,"v":147.5},{"t":122,"v":147.6},{"t":123,"v":148.1},{"t":124,"v":147.5},{"t":125,"v":147.6},{"t":126,"v":146.9},{"t":127,"v":146.4},{"t":128,"v":148.4},{"t":129,"v":148.7},{"t":130,"v":147.9},{"t":131,"v":148.2},{"t":132,"v":149.3},{"t":133,"v":149.3},{"t":134,"v":149.3},{"t":135,"v":150.6},{"t":136,"v":150.6},{"t":137,"v":149.9},{"t":138,"v":150.2},{"t":139,"v":150.1},{"t":140,"v":150.0},{"t":141,"v":150.3},{"t":142,"v":150.5},{"t":143,"v":150.5},{"t":144,"v":150.7},{"t":145,"v":150.5},{"t":146,"v":150.7},{"t":147,"v":150.0},{"t":148,"v":150.1},{"t":149,"v":150.5},{"t":150,"v":150.0},{"t":151,"v":149.4},{"t":152,"v":148.1},{"t":153,"v":147.0},{"t":154,"v":146.9},{"t":155,"v":147.7},{"t":156,"v":147.8},{"t":157,"v":148.3},{"t":158,"v":149.0},{"t":159,"v":149.1},{"t":160,"v":150.9},{"t":161,"v":151.3},{"t":162,"v":151.6},{"t":163,"v":151.4},{"t":164,"v":151.4},{"t":165,"v":151.6},{"t":166,"v":151.3},{"t":167,"v":151.4},{"t":168,"v":151.4},{"t":169,"v":151.6},{"t":170,"v":151.6},{"t":171,"v":151.7},{"t":172,"v":151.3},{"t":173,"v":151.6},{"t":174,"v":151.8},{"t":175,"v":151.8},{"t":176,"v":153.2},{"t":177,"v":153.3},{"t":178,"v":153.3},{"t":179,"v":154.2},{"t":180,"v":154.7},{"t":181,"v":154.4},{"t":182,"v":154.6},{"t":183,"v":154.6},{"t":184,"v":154.8},{"t":185,"v":154.8},{"t":186,"v":155.3},{"t":187,"v":155.6},{"t":188,"v":158.3},{"t":189,"v":156.4},{"t":190,"v":157.8},{"t":191,"v":155.0},{"t":192,"v":153.0},{"t":193,"v":152.9},{"t":194,"v":153.9},{"t":195,"v":154.7},{"t":196,"v":155.5},{"t":197,"v":155.5},{"t":198,"v":155.8},{"t":199,"v":156.2},{"t":200,"v":156.4},{"t":201,"v":154.9},{"t":202,"v":155.4},{"t":203,"v":155.7},{"t":204,"v":156.2},{"t":205,"v":156.2},{"t":206,"v":156.8},{"t":207,"v":157.0},{"t":208,"v":157.0},{"t":209,"v":156.9},{"t":210,"v":157.2},{"t":211,"v":157.6},{"t":212,"v":156.8},{"t":213,"v":157.3},{"t":214,"v":156.1},{"t":215,"v":154.8},{"t":216,"v":156.1},{"t":217,"v":155.6},{"t":218,"v":156.7},{"t":219,"v":157.0},{"t":220,"v":157.2},{"t":221,"v":156.7},{"t":222,"v":157.0},{"t":223,"v":157.4},{"t":224,"v":157.7},{"t":225,"v":157.9},{"t":226,"v":158.1},{"t":227,"v":158.9},{"t":228,"v":159.8},{"t":229,"v":159.7},{"t":230,"v":159.7},{"t":231,"v":160.8},{"t":232,"v":160.8},{"t":233,"v":160.9},{"t":234,"v":161.5},{"t":235,"v":161.5},{"t":236,"v":161.7},{"t":237,"v":161.2},{"t":238,"v":160.8},{"t":239,"v":160.8},{"t":240,"v":161.3},{"t":241,"v":161.7},{"t":242,"v":159.0},{"t":243,"v":157.9},{"t":244,"v":158.0},{"t":245,"v":158.3},{"t":246,"v":156.2},{"t":247,"v":157.4},{"t":248,"v":157.5},{"t":249,"v":157.0},{"t":250,"v":155.6},{"t":251,"v":153.9},{"t":252,"v":153.9},{"t":253,"v":153.8},{"t":254,"v":154.0},{"t":255,"v":152.7},{"t":256,"v":150.0},{"t":257,"v":149.4},{"t":258,"v":146.5},{"t":259,"v":144.2},{"t":260,"v":144.3},{"t":261,"v":146.8},{"t":262,"v":147.2},{"t":263,"v":146.6},{"t":264,"v":147.2},{"t":265,"v":146.8},{"t":266,"v":146.9},{"t":267,"v":149.3},{"t":268,"v":147.6},{"t":269,"v":146.6},{"t":270,"v":145.2},{"t":271,"v":145.3},{"t":272,"v":146.3},{"t":273,"v":144.4},{"t":274,"v":144.5},{"t":275,"v":143.9},{"t":276,"v":144.6},{"t":277,"v":144.9},{"t":278,"v":146.2},{"t":279,"v":146.9}],
"cloud":[{"t":-8,"sa":137.0,"sb":133.75},{"t":-6,"sa":137.2,"sb":134.0},{"t":-4,"sa":137.5,"sb":134.25},{"t":-2,"sa":137.8,"sb":134.7},{"t":0,"sa":138.0,"sb":135.15},{"t":2,"sa":138.2,"sb":135.25},{"t":4,"sa":138.2,"sb":135.25},{"t":6,"sa":138.3,"sb":135.25},{"t":8,"sa":138.3,"sb":135.75},{"t":10,"sa":138.4,"sb":135.75},{"t":12,"sa":138.6,"sb":135.75},{"t":14,"sa":139.0,"sb":135.75},{"t":16,"sa":139.5,"sb":136.7},{"t":18,"sa":140.0,"sb":137.3},{"t":20,"sa":141.0,"sb":137.95},{"t":22,"sa":141.35,"sb":138.35},{"t":24,"sa":142.0,"sb":138.95},{"t":26,"sa":142.3,"sb":139.05},{"t":28,"sa":142.9,"sb":139.05},{"t":30,"sa":142.75,"sb":139.3},{"t":32,"sa":142.3,"sb":139.3},{"t":34,"sa":141.4,"sb":139.3},{"t":36,"sa":141.05,"sb":139.4},{"t":38,"sa":140.9,"sb":139.4},{"t":40,"sa":140.4,"sb":139.4},{"t":42,"sa":140.4,"sb":139.7},{"t":44,"sa":140.6,"sb":139.7},{"t":46,"sa":140.8,"sb":140.3},{"t":48,"sa":141.1,"sb":140.6},{"t":50,"sa":141.1,"sb":141.15},{"t":52,"sa":141.0,"sb":141.15},{"t":54,"sa":141.9,"sb":141.15},{"t":56,"sa":142.5,"sb":141.15},{"t":58,"sa":142.9,"sb":141.8},{"t":60,"sa":143.2,"sb":141.9},{"t":62,"sa":143.7,"sb":141.9},{"t":64,"sa":143.95,"sb":141.9},{"t":66,"sa":144.05,"sb":141.9},{"t":68,"sa":144.35,"sb":142.3},{"t":70,"sa":144.35,"sb":142.3},{"t":72,"sa":145.4,"sb":142.5},{"t":74,"sa":145.45,"sb":142.55},{"t":76,"sa":145.5,"sb":142.55},{"t":78,"sa":145.8,"sb":142.55},{"t":80,"sa":146.5,"sb":142.55},{"t":82,"sa":146.6,"sb":142.55},{"t":84,"sa":146.85,"sb":142.85},{"t":86,"sa":147.3,"sb":143.1},{"t":88,"sa":147.8,"sb":143.9},{"t":90,"sa":147.85,"sb":143.95},{"t":92,"sa":148.05,"sb":144.15},{"t":94,"sa":148.05,"sb":144.15},{"t":96,"sa":148.4,"sb":144.15},{"t":98,"sa":148.4,"sb":145.85},{"t":100,"sa":148.4,"sb":145.85},{"t":102,"sa":148.6,"sb":145.9},{"t":104,"sa":148.9,"sb":146.6},{"t":106,"sa":149.0,"sb":147.25},{"t":108,"sa":149.3,"sb":147.35},{"t":110,"sa":149.6,"sb":147.65},{"t":112,"sa":149.9,"sb":148.1},{"t":114,"sa":149.9,"sb":148.1},{"t":116,"sa":149.9,"sb":148.1},{"t":118,"sa":150.0,"sb":148.1},{"t":120,"sa":150.1,"sb":148.1},{"t":122,"sa":150.3,"sb":148.9},{"t":124,"sa":150.45,"sb":148.9},{"t":126,"sa":150.0,"sb":148.9},{"t":128,"sa":149.55,"sb":149.2},{"t":130,"sa":149.5,"sb":149.5},{"t":132,"sa":149.4,"sb":149.5},{"t":134,"sa":148.75,"sb":149.3},{"t":136,"sa":148.5,"sb":149.05},{"t":138,"sa":148.5,"sb":149.05},{"t":140,"sa":145.95,"sb":146.75},{"t":142,"sa":145.9,"sb":146.75},{"t":144,"sa":145.3,"sb":146.4},{"t":146,"sa":145.3,"sb":146.4},{"t":148,"sa":144.95,"sb":146.4},{"t":150,"sa":144.65,"sb":146.4},{"t":152,"sa":144.1,"sb":146.4},{"t":154,"sa":143.8,"sb":146.1},{"t":156,"sa":143.5,"sb":146.1},{"t":158,"sa":143.2,"sb":146.1},{"t":160,"sa":143.7,"sb":146.1},{"t":162,"sa":143.5,"sb":146.1},{"t":164,"sa":143.7,"sb":146.1},{"t":166,"sa":143.8,"sb":146.1},{"t":168,"sa":145.1,"sb":146.1},{"t":170,"sa":145.3,"sb":146.1},{"t":172,"sa":145.55,"sb":146.1},{"t":174,"sa":145.7,"sb":145.9},{"t":176,"sa":146.15,"sb":145.55},{"t":178,"sa":146.1,"sb":145.0},{"t":180,"sa":146.05,"sb":145.0},{"t":182,"sa":146.1,"sb":144.95},{"t":184,"sa":146.9,"sb":144.85},{"t":186,"sa":147.1,"sb":144.85},{"t":188,"sa":148.0,"sb":145.6},{"t":190,"sa":148.4,"sb":145.6},{"t":192,"sa":148.9,"sb":145.6},{"t":194,"sa":149.2,"sb":145.6},{"t":196,"sa":149.3,"sb":145.6},{"t":198,"sa":149.3,"sb":145.6},{"t":200,"sa":149.2,"sb":145.6},{"t":202,"sa":149.2,"sb":145.6},{"t":204,"sa":148.9,"sb":145.6},{"t":206,"sa":148.7,"sb":145.85},{"t":208,"sa":148.65,"sb":145.85},{"t":210,"sa":148.6,"sb":146.95},{"t":212,"sa":148.7,"sb":147.15},{"t":214,"sa":149.15,"sb":148.05},{"t":216,"sa":149.4,"sb":148.1},{"t":218,"sa":149.6,"sb":148.85},{"t":220,"sa":149.9,"sb":148.95},{"t":222,"sa":150.2,"sb":148.95},{"t":224,"sa":150.4,"sb":148.95},{"t":226,"sa":150.3,"sb":148.95},{"t":228,"sa":150.9,"sb":149.55},{"t":230,"sa":151.0,"sb":149.65},{"t":232,"sa":151.75,"sb":150.65},{"t":234,"sa":152.2,"sb":150.65},{"t":236,"sa":152.6,"sb":150.7},{"t":238,"sa":153.4,"sb":150.95},{"t":240,"sa":155.3,"sb":152.45},{"t":242,"sa":156.2,"sb":153.35},{"t":244,"sa":156.0,"sb":153.35},{"t":246,"sa":155.8,"sb":153.35},{"t":248,"sa":155.8,"sb":153.35},{"t":250,"sa":155.2,"sb":153.35},{"t":252,"sa":155.1,"sb":153.35},{"t":254,"sa":155.4,"sb":153.35},{"t":256,"sa":155.6,"sb":153.35},{"t":258,"sa":155.6,"sb":153.4},{"t":260,"sa":155.7,"sb":153.85},{"t":262,"sa":155.8,"sb":154.55},{"t":264,"sa":156.35,"sb":155.25},{"t":266,"sa":156.45,"sb":155.5},{"t":268,"sa":155.55,"sb":155.5},{"t":270,"sa":155.5,"sb":155.5},{"t":272,"sa":155.9,"sb":155.5},{"t":274,"sa":155.8,"sb":155.5},{"t":276,"sa":156.2,"sb":155.5},{"t":278,"sa":156.3,"sb":155.9},{"t":280,"sa":157.5,"sb":156.05},{"t":282,"sa":157.7,"sb":156.05},{"t":284,"sa":158.4,"sb":156.05},{"t":286,"sa":158.95,"sb":156.05},{"t":288,"sa":159.35,"sb":156.95},{"t":290,"sa":159.5,"sb":156.95},{"t":292,"sa":159.7,"sb":156.95},{"t":294,"sa":159.1,"sb":156.95},{"t":296,"sa":159.3,"sb":156.95},{"t":298,"sa":158.65,"sb":157.8},{"t":300,"sa":158.65,"sb":157.8},{"t":302,"sa":158.6,"sb":157.8},{"t":304,"sa":156.2,"sb":156.95},{"t":306,"sa":156.2,"sb":156.95},{"t":308,"sa":154.8,"sb":155.8},{"t":310,"sa":153.0,"sb":154.2},{"t":312,"sa":150.15,"sb":151.85},{"t":314,"sa":150.1,"sb":151.85},{"t":316,"sa":149.55,"sb":151.85},{"t":318,"sa":148.8,"sb":151.85},{"t":320,"sa":148.55,"sb":151.85},{"t":322,"sa":148.7,"sb":151.85}],
"bear":[{"seg":1,"t":130,"a":149.5,"b":149.5},{"seg":1,"t":132,"a":149.4,"b":149.5},{"seg":1,"t":134,"a":148.75,"b":149.3},{"seg":1,"t":136,"a":148.5,"b":149.05},{"seg":1,"t":138,"a":148.5,"b":149.05},{"seg":1,"t":140,"a":145.95,"b":146.75},{"seg":1,"t":142,"a":145.9,"b":146.75},{"seg":1,"t":144,"a":145.3,"b":146.4},{"seg":1,"t":146,"a":145.3,"b":146.4},{"seg":1,"t":148,"a":144.95,"b":146.4},{"seg":1,"t":150,"a":144.65,"b":146.4},{"seg":1,"t":152,"a":144.1,"b":146.4},{"seg":1,"t":154,"a":143.8,"b":146.1},{"seg":1,"t":156,"a":143.5,"b":146.1},{"seg":1,"t":158,"a":143.2,"b":146.1},{"seg":1,"t":160,"a":143.7,"b":146.1},{"seg":1,"t":162,"a":143.5,"b":146.1},{"seg":1,"t":164,"a":143.7,"b":146.1},{"seg":1,"t":166,"a":143.8,"b":146.1},{"seg":1,"t":168,"a":145.1,"b":146.1},{"seg":1,"t":170,"a":145.3,"b":146.1},{"seg":1,"t":172,"a":145.55,"b":146.1},{"seg":1,"t":174,"a":145.7,"b":145.9},{"seg":1,"t":174.5,"a":145.81,"b":145.81},
{"seg":2,"t":303.03,"a":157.36,"b":157.36},{"seg":2,"t":304,"a":156.2,"b":156.95},{"seg":2,"t":306,"a":156.2,"b":156.95},{"seg":2,"t":308,"a":154.8,"b":155.8},{"seg":2,"t":310,"a":153.0,"b":154.2},{"seg":2,"t":312,"a":150.15,"b":151.85},{"seg":2,"t":314,"a":150.1,"b":151.85},{"seg":2,"t":316,"a":149.55,"b":151.85},{"seg":2,"t":318,"a":148.8,"b":151.85},{"seg":2,"t":320,"a":148.55,"b":151.85},{"seg":2,"t":322,"a":148.7,"b":151.85}],
"rsi":[{"t":-8.5,"v":64.4},{"t":-7.4,"v":68.4},{"t":-5.1,"v":72.7},{"t":-3.3,"v":73.2},{"t":-1.0,"v":75.1},{"t":0.4,"v":72.7},{"t":1.7,"v":71.7},{"t":3.6,"v":70.2},{"t":4.9,"v":50},{"t":6.3,"v":41.6},{"t":8.1,"v":31.9},{"t":9.0,"v":31.4},{"t":10.4,"v":36.7},{"t":11.8,"v":36.7},{"t":13.2,"v":43.5},{"t":15.0,"v":54.7},{"t":16.4,"v":51.3},{"t":18.6,"v":42.6},{"t":20.0,"v":56.2},{"t":22.3,"v":61},{"t":24.6,"v":52.3},{"t":26.9,"v":59.6},{"t":30.1,"v":65.4},{"t":33.3,"v":70.2},{"t":35.6,"v":63.4},{"t":37.8,"v":57.1},{"t":40.1,"v":63.4},{"t":42.4,"v":58.1},{"t":44.7,"v":60.5},{"t":47.0,"v":65.9},{"t":49.3,"v":64.4},{"t":51.1,"v":56.2},{"t":52.9,"v":60.5},{"t":55.2,"v":61},{"t":58.4,"v":64.4},{"t":58.9,"v":57.1},{"t":61.2,"v":65.9},{"t":63.0,"v":68.3},{"t":64.4,"v":64.4},{"t":65.7,"v":67.8},{"t":67.5,"v":60.5},{"t":69.8,"v":55.7},{"t":71.2,"v":58.6},{"t":73.5,"v":61},{"t":76.7,"v":60.5},{"t":79.0,"v":61.5},{"t":81.3,"v":59.6},{"t":83.5,"v":64.4},{"t":85.8,"v":48.4},{"t":87.2,"v":68.3},{"t":90.4,"v":48.9},{"t":92.7,"v":55.7},{"t":95.4,"v":62.9},{"t":97.7,"v":57.1},{"t":100.9,"v":41.1},{"t":103.2,"v":48.4},{"t":105.5,"v":45.8},{"t":107.8,"v":36.9},{"t":110.1,"v":40.1},{"t":112.3,"v":41},{"t":113.7,"v":29},{"t":116.0,"v":41.1},{"t":119.2,"v":29},{"t":122.4,"v":39.2},{"t":124.7,"v":35.3},{"t":127.0,"v":35.8},{"t":129.7,"v":31.4},{"t":132.9,"v":51.3},{"t":135.2,"v":50.8},{"t":137.5,"v":58.1},{"t":138.8,"v":53.2},{"t":142.0,"v":65.9},{"t":144.3,"v":66.8},{"t":145.7,"v":67.8},{"t":147.5,"v":61},{"t":149.8,"v":63.4},{"t":151.2,"v":58.1},{"t":152.6,"v":50.8},{"t":154.8,"v":62.9},{"t":157.1,"v":60.5},{"t":159.4,"v":63.4},{"t":161.2,"v":69.3},{"t":163.5,"v":62.9},{"t":166.3,"v":63.4},{"t":169.5,"v":65.4},{"t":172.7,"v":62.9},{"t":174.9,"v":58.1},{"t":177.2,"v":50},{"t":178.6,"v":38.7},{"t":180.0,"v":34.3},{"t":181.8,"v":41.6},{"t":184.1,"v":50},{"t":186.4,"v":61},{"t":188.7,"v":66.8},{"t":190.9,"v":63.4},{"t":193.7,"v":63.4},{"t":196.9,"v":64.4},{"t":198.3,"v":59.6},{"t":200.6,"v":62.9},{"t":202.8,"v":73.2},{"t":206.0,"v":78},{"t":207.4,"v":76.6},{"t":210.6,"v":76.6},{"t":212.0,"v":77.5},{"t":213.8,"v":82.9},{"t":215.2,"v":72.7},{"t":216.5,"v":58.1},{"t":218.8,"v":46.5},{"t":221.1,"v":55.7},{"t":223.4,"v":58.1},{"t":225.7,"v":59.6},{"t":227.5,"v":52.3},{"t":229.8,"v":55.7},{"t":232.5,"v":61},{"t":235.7,"v":61},{"t":237.1,"v":64.4},{"t":238.9,"v":59.6},{"t":241.2,"v":46.5},{"t":243.5,"v":52.3},{"t":245.8,"v":55.7},{"t":248.5,"v":58.1},{"t":251.7,"v":62},{"t":254.0,"v":70.2},{"t":256.3,"v":68.3},{"t":257.7,"v":72.7},{"t":260.0,"v":75.1},{"t":262.2,"v":75.6},{"t":264.5,"v":65.4},{"t":266.8,"v":70.2},{"t":268.6,"v":48.9},{"t":270.0,"v":41.1},{"t":272.3,"v":43.5},{"t":273.2,"v":33.8},{"t":275.5,"v":36.7},{"t":277.8,"v":30.4},{"t":280.5,"v":29},{"t":282.4,"v":24.1},{"t":284.6,"v":17.3},{"t":286.0,"v":14.4},{"t":287.4,"v":29},{"t":289.7,"v":31.9},{"t":291.9,"v":34.3},{"t":293.8,"v":42.6},{"t":296.1,"v":36.7},{"t":297.4,"v":31.9},{"t":298.8,"v":36.3},{"t":300.6,"v":31.9},{"t":302.9,"v":35.3},{"t":304.3,"v":42.6}]
},
"vconcat":[
{
"width":723,"height":551,
"encoding":{"x":{"field":"t","type":"quantitative","scale":{"domain":[-8.8,321.7],"nice":false,"zero":false},"axis":{"values":[-8,0,21,35,44,65,79,87,101,109,130,145,153,174,195,209,217,231,240,260,274,283,297,305],"grid":true,"gridDash":[1,6],"gridColor":"#333","gridWidth":1,"labels":false,"ticks":false,"domain":false,"title":null}}},
"layer":[
{"data":{"name":"cloud"},"mark":{"type":"area","color":"#e9b59f","clip":true},"encoding":{"y":{"field":"sa","type":"quantitative","scale":{"domain":[131.9,164.1],"nice":false,"zero":false},"axis":{"orient":"right","values":[135,140,145,150,155,160],"title":null,"grid":false,"tickSize":6,"labelPadding":2,"domainWidth":1}},"y2":{"field":"sb"}}},
{"data":{"name":"bear"},"mark":{"type":"area","color":"#c9c9f4","clip":true},"encoding":{"y":{"field":"a","type":"quantitative","scale":{"domain":[131.9,164.1],"nice":false,"zero":false},"axis":{"orient":"right","values":[135,140,145,150,155,160],"title":null,"grid":false,"tickSize":6,"labelPadding":2,"domainWidth":1}},"y2":{"field":"b"},"detail":{"field":"seg","type":"nominal"}}},
{"data":{"name":"cloud"},"mark":{"type":"line","color":"#f0b088","strokeWidth":1,"clip":true},"encoding":{"y":{"field":"sa","type":"quantitative","scale":{"domain":[131.9,164.1],"nice":false,"zero":false},"axis":{"orient":"right","values":[135,140,145,150,155,160],"title":null,"grid":false,"tickSize":6,"labelPadding":2,"domainWidth":1}}}},
{"data":{"name":"cloud"},"mark":{"type":"line","color":"#8c8cc6","strokeWidth":1,"clip":true},"encoding":{"y":{"field":"sb","type":"quantitative","scale":{"domain":[131.9,164.1],"nice":false,"zero":false},"axis":{"orient":"right","values":[135,140,145,150,155,160],"title":null,"grid":false,"tickSize":6,"labelPadding":2,"domainWidth":1}}}},
{"data":{"name":"candles"},"mark":{"type":"rule","strokeWidth":0.9},"encoding":{"y":{"field":"l","type":"quantitative","scale":{"domain":[131.9,164.1],"nice":false,"zero":false},"axis":{"orient":"right","values":[135,140,145,150,155,160],"title":null,"grid":false,"tickSize":6,"labelPadding":2,"domainWidth":1}},"y2":{"field":"h"},"color":{"condition":{"test":"datum.c>=datum.o","value":"#de7a58"},"value":"#6a86d6"}}},
{"data":{"name":"candles"},"mark":{"type":"rule","strokeWidth":1.8},"encoding":{"y":{"field":"o","type":"quantitative","scale":{"domain":[131.9,164.1],"nice":false,"zero":false},"axis":{"orient":"right","values":[135,140,145,150,155,160],"title":null,"grid":false,"tickSize":6,"labelPadding":2,"domainWidth":1}},"y2":{"field":"c"},"color":{"condition":{"test":"datum.c>=datum.o","value":"#cc3c12"},"value":"#1a35b8"}}},
{"data":{"name":"tenkan"},"mark":{"type":"line","color":"#cc1c1c","strokeWidth":1},"encoding":{"y":{"field":"v","type":"quantitative","scale":{"domain":[131.9,164.1],"nice":false,"zero":false},"axis":{"orient":"right","values":[135,140,145,150,155,160],"title":null,"grid":false,"tickSize":6,"labelPadding":2,"domainWidth":1}}}},
{"data":{"name":"kijun"},"mark":{"type":"line","color":"#1c1ca8","strokeWidth":1.2,"interpolate":"step-after"},"encoding":{"y":{"field":"v","type":"quantitative","scale":{"domain":[131.9,164.1],"nice":false,"zero":false},"axis":{"orient":"right","values":[135,140,145,150,155,160],"title":null,"grid":false,"tickSize":6,"labelPadding":2,"domainWidth":1}}}},
{"data":{"name":"chikou"},"mark":{"type":"line","color":"#1f8f1f","strokeWidth":2.6},"encoding":{"y":{"field":"v","type":"quantitative","scale":{"domain":[131.9,164.1],"nice":false,"zero":false},"axis":{"orient":"right","values":[135,140,145,150,155,160],"title":null,"grid":false,"tickSize":6,"labelPadding":2,"domainWidth":1}}}},
{"data":{"values":[{"t":-8.8,"t2":321.7,"v":135.48}]},"mark":{"type":"rule","color":"#a3d5e6","strokeWidth":4.5},"encoding":{"x2":{"field":"t2"},"y":{"field":"v","type":"quantitative","scale":{"domain":[131.9,164.1],"nice":false,"zero":false},"axis":{"orient":"right","values":[135,140,145,150,155,160],"title":null,"grid":false,"tickSize":6,"labelPadding":2,"domainWidth":1}}}},
{"data":{"values":[{"t":9.1,"v":131.98},{"t":62.8,"v":135.66},{"t":73.4,"v":131.98},{"t":93.8,"v":135.66},{"t":130.6,"v":131.98},{"t":161.4,"v":135.66},{"t":181.4,"v":131.98},{"t":214.9,"v":135.66},{"t":241.5,"v":131.98},{"t":261.9,"v":135.66},{"t":287.2,"v":131.98},{"t":291.4,"v":133.32}]},"mark":{"type":"line","color":"#6c8cbf","strokeWidth":3.5},"encoding":{"y":{"field":"v","type":"quantitative","scale":{"domain":[131.9,164.1],"nice":false,"zero":false},"axis":{"orient":"right","values":[135,140,145,150,155,160],"title":null,"grid":false,"tickSize":6,"labelPadding":2,"domainWidth":1}}}},
{"data":{"values":[{"t":-8.8,"t2":334.5,"v":131.92}]},"mark":{"type":"rule","color":"#000","strokeWidth":3.5},"encoding":{"x2":{"field":"t2"},"y":{"field":"v","type":"quantitative","scale":{"domain":[131.9,164.1],"nice":false,"zero":false},"axis":{"orient":"right","values":[135,140,145,150,155,160],"title":null,"grid":false,"tickSize":6,"labelPadding":2,"domainWidth":1}}}},
{"data":{"values":[{"t":2.7,"t2":31.4,"v":141.7},{"t":276.9,"t2":325.3,"v":149.4}]},"mark":{"type":"rule","color":"#000","strokeWidth":4.5},"encoding":{"x2":{"field":"t2"},"y":{"field":"v","type":"quantitative","scale":{"domain":[131.9,164.1],"nice":false,"zero":false},"axis":{"orient":"right","values":[135,140,145,150,155,160],"title":null,"grid":false,"tickSize":6,"labelPadding":2,"domainWidth":1}}}},
{"data":{"values":[{"t":281.9,"v":141.1},{"t":318.5,"v":145.4}]},"mark":{"type":"line","color":"#000","strokeWidth":4},"encoding":{"y":{"field":"v","type":"quantitative","scale":{"domain":[131.9,164.1],"nice":false,"zero":false},"axis":{"orient":"right","values":[135,140,145,150,155,160],"title":null,"grid":false,"tickSize":6,"labelPadding":2,"domainWidth":1}}}},
{"data":{"values":[{"g":"A","t":295.2,"v":149.32},{"g":"A","t":304.3,"v":147.57},{"g":"A","t":313.4,"v":145.52},{"g":"A","t":321.7,"v":142.37},{"g":"A","t":330.0,"v":139.45},{"g":"B","t":300.6,"v":143.07},{"g":"B","t":312.5,"v":145.99},{"g":"B","t":321.7,"v":150.25},{"g":"B","t":327.6,"v":153.17}]},"mark":{"type":"line","color":"#f5c518","strokeWidth":3,"interpolate":"monotone"},"encoding":{"y":{"field":"v","type":"quantitative","scale":{"domain":[131.9,164.1],"nice":false,"zero":false},"axis":{"orient":"right","values":[135,140,145,150,155,160],"title":null,"grid":false,"tickSize":6,"labelPadding":2,"domainWidth":1}},"detail":{"field":"g","type":"nominal"}}},
{"data":{"values":[{"t":4.0,"v":161.75,"s":"ドル円　日足　一目均衡表"}]},"mark":{"type":"text","align":"left","baseline":"middle","font":"Noto Sans CJK JP","fontSize":13,"color":"#000"},"encoding":{"y":{"field":"v","type":"quantitative","scale":{"domain":[131.9,164.1],"nice":false,"zero":false},"axis":{"orient":"right","values":[135,140,145,150,155,160],"title":null,"grid":false,"tickSize":6,"labelPadding":2,"domainWidth":1}},"text":{"field":"s"}}}
]
},
{
"width":723,"height":172,
"encoding":{"x":{"field":"t","type":"quantitative","scale":{"domain":[-8.8,321.7],"nice":false,"zero":false},"axis":{"values":[-8,0,21,35,44,65,79,87,101,109,130,145,153,174,195,209,217,231,240,260,274,283,297,305],"labelExpr":"datum.value==-8?'21':datum.value==0?'23/07':datum.value==21?'23/08':datum.value==35?'21':datum.value==44?'23/09':datum.value==65?'23/10':datum.value==79?'20':datum.value==87?'23/11':datum.value==101?'21':datum.value==109?'23/12':datum.value==130?'24/01':datum.value==145?'22':datum.value==153?'24/02':datum.value==174?'24/03':datum.value==195?'24/04':datum.value==209?'19':datum.value==217?'24/05':datum.value==231?'21':datum.value==240?'24/06':datum.value==260?'24/07':datum.value==274?'19':datum.value==283?'24/08':datum.value==297?'21':datum.value==305?'24/09':''","grid":true,"gridDash":[1,6],"gridColor":"#333","gridWidth":1,"ticks":true,"tickSize":10,"tickColor":"#555","domain":true,"domainWidth":1.5,"labelAlign":"left","labelOffset":2,"labelPadding":2,"labelOverlap":false,"labelFlush":false,"labelBound":false,"title":null}}},
"layer":[
{"data":{"values":[{"t":-8.8,"t2":305,"v":70}]},"mark":{"type":"rule","color":"#f2a4a4","strokeWidth":1},"encoding":{"x2":{"field":"t2"},"y":{"field":"v","type":"quantitative","scale":{"domain":[9.6,93.1],"nice":false,"zero":false},"axis":{"orient":"right","values":[50],"title":null,"grid":false,"tickSize":6,"labelPadding":2,"domainWidth":1}}}},
{"data":{"values":[{"t":-8.8,"t2":305,"v":50}]},"mark":{"type":"rule","color":"#808080","strokeWidth":1.2},"encoding":{"x2":{"field":"t2"},"y":{"field":"v","type":"quantitative","scale":{"domain":[9.6,93.1],"nice":false,"zero":false},"axis":{"orient":"right","values":[50],"title":null,"grid":false,"tickSize":6,"labelPadding":2,"domainWidth":1}}}},
{"data":{"values":[{"t":-8.8,"t2":305,"v":30}]},"mark":{"type":"rule","color":"#a6bcd2","strokeWidth":2},"encoding":{"x2":{"field":"t2"},"y":{"field":"v","type":"quantitative","scale":{"domain":[9.6,93.1],"nice":false,"zero":false},"axis":{"orient":"right","values":[50],"title":null,"grid":false,"tickSize":6,"labelPadding":2,"domainWidth":1}}}},
{"data":{"name":"rsi"},"mark":{"type":"line","color":"#c8281e","strokeWidth":1},"encoding":{"y":{"field":"v","type":"quantitative","scale":{"domain":[9.6,93.1],"nice":false,"zero":false},"axis":{"orient":"right","values":[50],"title":null,"grid":false,"tickSize":6,"labelPadding":2,"domainWidth":1}}}},
{"data":{"values":[{"g":"a","t":126.1,"v":26.4},{"g":"a","t":177.1,"v":69.6},{"g":"b","t":178.3,"v":31.3},{"g":"b","t":222.0,"v":68.2},{"g":"c","t":239.9,"v":42.9},{"g":"c","t":272.0,"v":68.8},{"g":"d","t":281.4,"v":11.0},{"g":"d","t":334.0,"v":48.4}]},"mark":{"type":"line","color":"#f5c518","strokeWidth":4,"strokeCap":"round"},"encoding":{"y":{"field":"v","type":"quantitative","scale":{"domain":[9.6,93.1],"nice":false,"zero":false},"axis":{"orient":"right","values":[50],"title":null,"grid":false,"tickSize":6,"labelPadding":2,"domainWidth":1}},"detail":{"field":"g","type":"nominal"}}},
{"data":{"values":[{"t":-8.8,"t2":334.5,"v":9.6}]},"mark":{"type":"rule","color":"#000","strokeWidth":1.5},"encoding":{"x2":{"field":"t2"},"y":{"field":"v","type":"quantitative","scale":{"domain":[9.6,93.1],"nice":false,"zero":false},"axis":{"orient":"right","values":[50],"title":null,"grid":false,"tickSize":6,"labelPadding":2,"domainWidth":1}}}},
{"data":{"values":[{"t":7.2,"v":78.5,"s":"相対力指数（14）"}]},"mark":{"type":"text","align":"left","baseline":"middle","font":"Noto Sans CJK JP","fontSize":12,"color":"#000"},"encoding":{"y":{"field":"v","type":"quantitative","scale":{"domain":[9.6,93.1],"nice":false,"zero":false},"axis":{"orient":"right","values":[50],"title":null,"grid":false,"tickSize":6,"labelPadding":2,"domainWidth":1}},"text":{"field":"s"}}}
]
}
]
}
